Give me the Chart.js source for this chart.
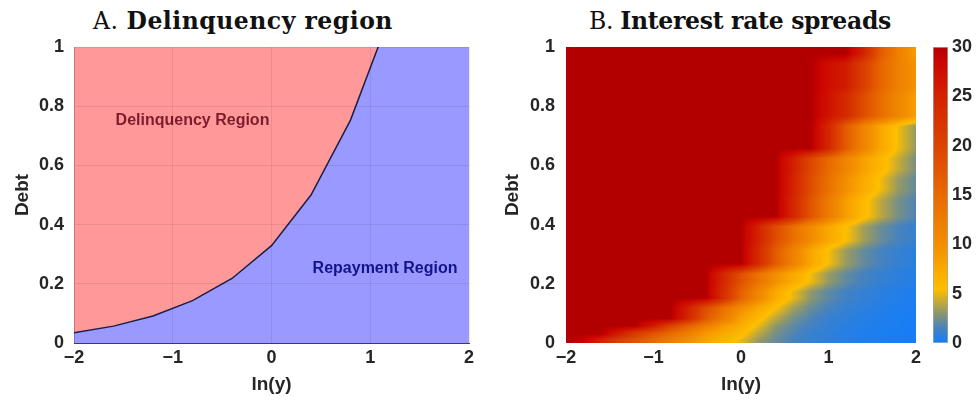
<!DOCTYPE html>
<html>
<head>
<meta charset="utf-8">
<script src="https://cdn.jsdelivr.net/npm/chart.js@4.4.1/dist/chart.umd.min.js"></script>
<style>
  html, body { margin: 0; padding: 0; background: #fff; }
  body { width: 979px; height: 402px; position: relative; overflow: hidden; }
  canvas { position: absolute; top: 0; }
  .title {
    position: absolute; top: 9px; line-height: 24px;
    font-family: "DejaVu Serif", serif; font-size: 23.5px; color: #111;
    text-align: center; white-space: nowrap;
  }
</style>
</head>
<body>
<div class="title" style="left:0;width:486px;letter-spacing:0.5px">A. <b>Delinquency region</b></div>
<div class="title" style="left:490px;width:500px;letter-spacing:-0.3px">B. <b>Interest rate spreads</b></div>
<canvas id="regionChart" width="490" height="402" style="left:0"></canvas>
<canvas id="spreadChart" width="435" height="402" style="left:490px"></canvas>
<canvas id="colorbar" width="54" height="402" style="left:925px"></canvas>
<script>
// =====================
// Data
// =====================
// A. debt threshold above which the borrower is delinquent
const boundaryLnY = [-2, -1.6, -1.2, -0.8, -0.4, 0, 0.4, 0.8, 1.2];
const boundaryDebt = [0.035, 0.057, 0.091, 0.143, 0.218, 0.329, 0.5, 0.753, 1.106];

// B. spreads: income grid, debt bands (edges) and one row of spreads per band
const spreadLnY = [-2, -1.8, -1.6, -1.4, -1.2, -1, -0.8, -0.6, -0.4, -0.2, 0, 0.2, 0.4, 0.6, 0.8, 1, 1.2, 1.4, 1.6, 1.8, 2];
const debtBands = [0, 0.02, 0.045, 0.07, 0.1, 0.135, 0.19, 0.25, 0.33, 0.41, 0.5, 0.57, 0.64, 0.75, 0.85, 0.96, 1];
const spreads = [
  [30, 29, 25, 21, 18, 15, 12.5, 10, 8, 6.5, 5, 3.2, 2.2, 1.5, 1, 0.7, 0.45, 0.3, 0.2, 0.1, 0.05],
  [30, 30, 30, 26, 21.3, 18, 14.7, 12, 9, 7.5, 6, 4, 2.5, 1.7, 1.1, 0.8, 0.5, 0.35, 0.2, 0.15, 0.1],
  [30, 30, 30, 30, 30, 26, 20.1, 16, 12.2, 8.9, 7, 5, 3, 2, 1.4, 0.95, 0.65, 0.42, 0.3, 0.2, 0.1],
  [30, 30, 30, 30, 30, 30, 30, 24.5, 17.4, 12.5, 8.4, 6, 4, 2.5, 1.7, 1.1, 0.8, 0.5, 0.35, 0.2, 0.1],
  [30, 30, 30, 30, 30, 30, 30, 25, 18.7, 14, 10.1, 7.5, 5.4, 3.4, 2.2, 1.5, 1, 0.7, 0.45, 0.3, 0.2],
  [30, 30, 30, 30, 30, 30, 30, 30, 30, 23.5, 16.1, 10.9, 7.3, 5, 3, 2, 1.4, 0.95, 0.65, 0.42, 0.3],
  [30, 30, 30, 30, 30, 30, 30, 30, 30, 24.5, 18.4, 13.8, 9.8, 7.3, 5.2, 3.2, 2.1, 1.45, 1, 0.7, 0.45],
  [30, 30, 30, 30, 30, 30, 30, 30, 30, 30, 30, 24, 16.8, 11.6, 7.7, 5.3, 3.3, 2.15, 1.5, 1, 0.7],
  [30, 30, 30, 30, 30, 30, 30, 30, 30, 30, 30, 25, 18.9, 14.3, 10.4, 7.6, 5.5, 3.5, 2.25, 1.55, 1.05],
  [30, 30, 30, 30, 30, 30, 30, 30, 30, 30, 30, 30, 30, 24.5, 17.8, 12.7, 8.5, 6, 4, 2.5, 1.7],
  [30, 30, 30, 30, 30, 30, 30, 30, 30, 30, 30, 30, 30, 25, 18.8, 14.1, 10, 7.3, 5.2, 3.2, 2.1],
  [30, 30, 30, 30, 30, 30, 30, 30, 30, 30, 30, 30, 30, 25.5, 19.6, 15.1, 11.3, 8.2, 6.2, 4.2, 2.6],
  [30, 30, 30, 30, 30, 30, 30, 30, 30, 30, 30, 30, 30, 30, 30, 24.5, 16.9, 11.5, 7.6, 5.2, 3.2],
  [30, 30, 30, 30, 30, 30, 30, 30, 30, 30, 30, 30, 30, 30, 30, 27, 24, 19, 14.5, 11, 8.5],
  [30, 30, 30, 30, 30, 30, 30, 30, 30, 30, 30, 30, 30, 30, 30, 27.5, 26, 21, 15.5, 12, 9.5],
  [30, 30, 30, 30, 30, 30, 30, 30, 30, 30, 30, 30, 30, 30, 30, 30, 30, 25, 17, 12, 8.5]
];

const lnYTicks = [-2, -1, 0, 1, 2];
const debtTicks = [0, 0.2, 0.4, 0.6, 0.8, 1];
const spreadTicks = [0, 5, 10, 15, 20, 25, 30];

// colour map of panel B (blue -> yellow -> dark red)
const cmapStops = [0, 1.5, 3, 4.5, 5.5, 10, 15, 20, 25, 28.5, 30];
const cmapColors = [[20,125,250], [70,130,190], [140,150,110], [210,175,40], [255,190,0],
  [243,142,0], [232,106,0], [220,68,0], [210,35,0], [204,5,0], [178,0,0]];

// =====================
// Helpers
// =====================
Chart.defaults.font.family = '"Liberation Sans", Arial, sans-serif';
Chart.defaults.color = "#262626";

const tickFont = { size: 18, weight: "bold" };
const titleFont = { size: 19, weight: "bold" };
const minus = v => (v < 0 ? "\u2212" + Math.abs(v) : String(v));

function spreadColor(v) {
  const n = cmapStops.length;
  for (let i = 0; i < n - 1; i++) {
    if (v <= cmapStops[i + 1] || i === n - 2) {
      const t = Math.min(1, Math.max(0, (v - cmapStops[i]) / (cmapStops[i + 1] - cmapStops[i])));
      return cmapColors[i].map((c, k) => Math.round(c + (cmapColors[i + 1][k] - c) * t));
    }
  }
}

function spreadAt(row, v) {
  const n = spreadLnY.length;
  for (let i = 0; i < n - 1; i++) {
    if (v <= spreadLnY[i + 1] || i === n - 2) {
      const t = Math.min(1, Math.max(0, (v - spreadLnY[i]) / (spreadLnY[i + 1] - spreadLnY[i])));
      return row[i] + (row[i + 1] - row[i]) * t;
    }
  }
}

function axes(padTick, yWidth, grid) {
  return {
    x: {
      type: "linear", min: -2, max: 2,
      afterBuildTicks: s => { s.ticks = lnYTicks.map(value => ({ value })); },
      afterFit: s => { s.height = 59; },
      ticks: { font: tickFont, padding: 4, maxRotation: 0, callback: minus },
      grid: grid ? { color: "rgba(0,0,0,0.08)", drawTicks: false, z: 1 } : { display: false, drawTicks: false },
      border: grid ? { display: true, color: "#444", z: 1 } : { display: false },
      title: { display: true, text: "ln(y)", font: titleFont, padding: { top: 0, bottom: 6 } }
    },
    y: {
      min: 0, max: 1,
      afterBuildTicks: s => { s.ticks = debtTicks.map(value => ({ value })); },
      afterFit: s => { s.width = yWidth; },
      ticks: { font: tickFont, padding: padTick, callback: v => String(v) },
      grid: grid ? { color: "rgba(0,0,0,0.08)", drawTicks: false, z: 1 } : { display: false, drawTicks: false },
      border: grid ? { display: true, color: "rgba(0,0,0,0.15)", z: 1 } : { display: false },
      title: { display: true, text: "Debt", font: titleFont, padding: { top: 11, bottom: 0 } }
    }
  };
}

// =====================
// A. Delinquency region
// =====================
const repaymentBackground = {
  id: "repaymentBackground",
  beforeDatasetsDraw(chart) {
    const { ctx, chartArea: a } = chart;
    ctx.save();
    ctx.fillStyle = "#9999ff";
    ctx.fillRect(a.left, a.top, a.right - a.left, a.bottom - a.top);
    ctx.restore();
  }
};

const regionLabels = {
  id: "regionLabels",
  afterDatasetsDraw(chart) {
    const { ctx, scales: { x, y } } = chart;
    ctx.save();
    ctx.font = 'bold 16px "Liberation Sans", Arial, sans-serif';
    ctx.textAlign = "center";
    ctx.textBaseline = "middle";
    ctx.fillStyle = "#7d1b2e";
    ctx.fillText("Delinquency Region", x.getPixelForValue(-0.8), y.getPixelForValue(0.75));
    ctx.fillStyle = "#13138c";
    ctx.fillText("Repayment Region", x.getPixelForValue(1.15), y.getPixelForValue(0.25));
    ctx.restore();
  }
};

new Chart(document.getElementById("regionChart"), {
  type: "line",
  data: {
    datasets: [{
      label: "Delinquency threshold",
      data: boundaryLnY.map((v, i) => ({ x: v, y: boundaryDebt[i] })),
      borderColor: "#1b1f45",
      borderWidth: 1.5,
      backgroundColor: "#ff9999",
      fill: "end",
      pointRadius: 0,
      tension: 0
    }]
  },
  options: {
    responsive: false,
    animation: false,
    layout: { padding: { top: 47, right: 21, left: 0, bottom: 0 } },
    plugins: { legend: { display: false }, tooltip: { enabled: false } },
    scales: axes(10, 74, true)
  },
  plugins: [repaymentBackground, regionLabels]
});

// =====================
// B. Interest rate spreads (heat map)
// =====================
// bands are flat in debt, linear in ln(y); edges between bands are softened a few pixels
const heatmap = {
  id: "heatmap",
  beforeDatasetsDraw(chart) {
    const { ctx, chartArea: a, scales: { x, y } } = chart;
    const left = Math.round(a.left), top = Math.round(a.top);
    const w = Math.round(a.right) - left, h = Math.round(a.bottom) - top;
    const img = ctx.createImageData(w, h);
    const soft = 5;

    const cols = [];
    for (let px = 0; px < w; px++) cols.push(x.getValueForPixel(left + px + 0.5));
    const rowVals = spreads.map(row => cols.map(v => spreadAt(row, v)));
    const edgePx = debtBands.map(d => y.getPixelForValue(d));
    const nb = spreads.length;

    for (let py = 0; py < h; py++) {
      const yc = top + py + 0.5;
      const d = y.getValueForPixel(yc);
      let r = 0;
      while (r < nb - 1 && d >= debtBands[r + 1]) r++;
      const hr = edgePx[r] - edgePx[r + 1];
      let nbr = -1, wt = 0;
      if (r < nb - 1) {
        const wu = Math.min(soft, hr / 2, (edgePx[r + 1] - edgePx[r + 2]) / 2);
        const du = yc - edgePx[r + 1];
        if (du < wu) { nbr = r + 1; wt = 0.5 * (1 - du / wu); }
      }
      if (nbr < 0 && r > 0) {
        const wl = Math.min(soft, hr / 2, (edgePx[r - 1] - edgePx[r]) / 2);
        const dl = edgePx[r] - yc;
        if (dl < wl) { nbr = r - 1; wt = 0.5 * (1 - dl / wl); }
      }
      for (let px = 0; px < w; px++) {
        let v = rowVals[r][px];
        if (nbr >= 0) v = v * (1 - wt) + rowVals[nbr][px] * wt;
        const c = spreadColor(v);
        const k = (py * w + px) * 4;
        img.data[k] = c[0]; img.data[k + 1] = c[1]; img.data[k + 2] = c[2]; img.data[k + 3] = 255;
      }
    }
    ctx.putImageData(img, left, top);
  }
};

new Chart(document.getElementById("spreadChart"), {
  type: "scatter",
  data: { datasets: [] },
  options: {
    responsive: false,
    animation: false,
    layout: { padding: { top: 47, right: 7, left: 0, bottom: 0 } },
    plugins: { legend: { display: false }, tooltip: { enabled: false } },
    scales: axes(11, 76, false)
  },
  plugins: [heatmap]
});

// =====================
// Colour bar
// =====================
new Chart(document.getElementById("colorbar"), {
  type: "bar",
  data: {
    labels: [""],
    datasets: [{
      data: [[spreadTicks[0], spreadTicks[spreadTicks.length - 1]]],
      backgroundColor(c) {
        const { ctx, chartArea } = c.chart;
        if (!chartArea) return null;
        const g = ctx.createLinearGradient(0, chartArea.bottom, 0, chartArea.top);
        const max = spreadTicks[spreadTicks.length - 1];
        cmapStops.forEach((s, i) => g.addColorStop(s / max, "rgb(" + cmapColors[i].join(",") + ")"));
        return g;
      },
      borderColor: "#aaa",
      borderWidth: 1,
      borderSkipped: false,
      barPercentage: 1,
      categoryPercentage: 1
    }]
  },
  options: {
    responsive: false,
    animation: false,
    layout: { padding: { top: 47, right: 0, left: 8, bottom: 59 } },
    plugins: { legend: { display: false }, tooltip: { enabled: false } },
    scales: {
      x: { display: false },
      y: {
        position: "right", min: 0, max: 30,
        afterBuildTicks: s => { s.ticks = spreadTicks.map(value => ({ value })); },
        afterFit: s => { s.width = 31; },
        ticks: { font: tickFont, padding: 4 },
        grid: { display: false, drawTicks: false },
        border: { display: false }
      }
    }
  }
});
</script>
</body>
</html>
